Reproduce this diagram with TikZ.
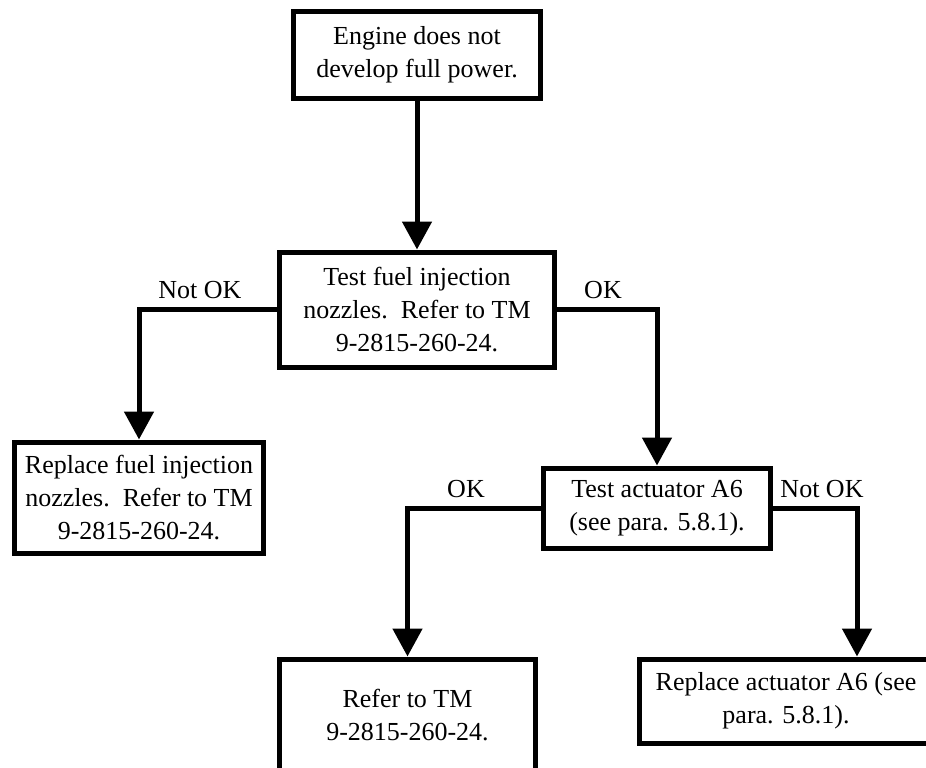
\documentclass[tikz,border=0pt]{standalone}
\usepackage{fontspec}
\setmainfont{Liberation Serif}
\usetikzlibrary{arrows.meta}
\begin{document}
\begin{tikzpicture}[x=1bp,y=-1bp,
  box/.style={draw=black,line width=5bp,rectangle,inner sep=0pt,align=center,
    font=\fontsize{26bp}{33bp}\selectfont,line join=miter},
  lbl/.style={anchor=base,inner sep=0pt,font=\fontsize{26bp}{33bp}\selectfont},
  conn/.style={draw=black,line width=5bp,line join=miter,
    -{Triangle[width=29bp,length=28bp]}}]
\useasboundingbox (0,0) rectangle (926,768);
\clip (0,0) rectangle (926,768);
\fill[white] (0,0) rectangle (926,768);
\node[box,minimum width=247bp,minimum height=86bp] (top) at (417,55)
  {Engine does not\\develop full power.};
\node[box,minimum width=275bp,minimum height=115bp] (test1) at (417,309.5)
  {Test fuel injection\\nozzles.\ \ Refer to TM\\9-2815-260-24.};
\node[box,minimum width=248bp,minimum height=111bp] (left) at (139,497.5)
  {Replace fuel injection\\nozzles.\ \ Refer to TM\\9-2815-260-24.};
\node[box,minimum width=227bp,minimum height=80bp] (act) at (657,508)
  {Test actuator A6\\(see para. 5.8.1).};
\node[box,minimum width=256bp,minimum height=112bp] (ref) at (407.5,715)
  {Refer to TM\\9-2815-260-24.};
\node[box,minimum width=294bp,minimum height=84bp] (repl) at (786,701)
  {Replace actuator A6 (see\\para. 5.8.1).};
\node[lbl] (l1) at (200,298) {Not OK};
\node[lbl] (l2) at (603,298) {OK};
\node[lbl] (l3) at (466,497) {OK};
\node[lbl] (l4) at (822,497) {Not OK};
\draw[conn] (top.south) -- (test1.north);
\draw[conn] (test1.west) -| (left.north);
\draw[conn] (test1.east) -| (act.north);
\draw[conn] (act.west) -| (ref.north);
\draw[conn] (act.east) -| ([xshift=71bp]repl.north);
\end{tikzpicture}
\end{document}
